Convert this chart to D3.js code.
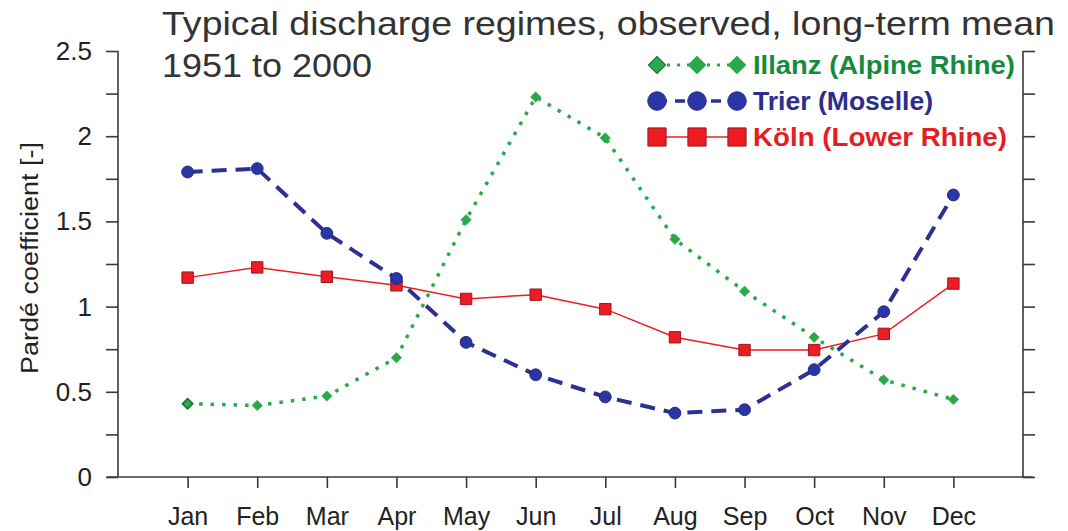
<!DOCTYPE html>
<html>
<head>
<meta charset="utf-8">
<script src="https://cdn.jsdelivr.net/npm/d3@7/dist/d3.min.js"></script>
<style>
  html, body { margin: 0; padding: 0; background: #fff; }
  svg { display: block; font-family: "Liberation Sans", Arial, Helvetica, sans-serif; }
</style>
</head>
<body>
<svg id="chart" width="1068" height="531"></svg>
<script>
// Monthly Pardé coefficients, long-term mean 1951–2000
const months = ["Jan", "Feb", "Mar", "Apr", "May", "Jun", "Jul", "Aug", "Sep", "Oct", "Nov", "Dec"];
const illanz = [0.43, 0.42, 0.475, 0.70, 1.51, 2.23, 1.99, 1.395, 1.09, 0.82, 0.57, 0.455];
const trier  = [1.79, 1.81, 1.43, 1.165, 0.79, 0.60, 0.47, 0.375, 0.395, 0.63, 0.97, 1.655];
const koeln  = [1.17, 1.23, 1.175, 1.125, 1.045, 1.07, 0.985, 0.82, 0.745, 0.745, 0.84, 1.135];
const yTicks = [0, 0.5, 1, 1.5, 2, 2.5];
const yMinorTicks = [0, 0.25, 0.5, 0.75, 1, 1.25, 1.5, 1.75, 2, 2.25, 2.5];
const seriesNames = ["Illanz (Alpine Rhine)", "Trier (Moselle)", "Köln (Lower Rhine)"];

const svg = d3.select("#chart");
const plot = { left: 118, right: 1023, top: 51, bottom: 477 };

const x = d3.scaleLinear().domain([0, months.length + 1]).range([plot.left, plot.right]);
const y = d3.scaleLinear().domain([0, 2.5]).range([plot.bottom, plot.top]);

const axisColor = "#3a3a3a";

// Title
svg.append("text").attr("x", 162).attr("y", 35)
  .attr("font-size", 33).attr("fill", "#333")
  .attr("textLength", 893).attr("lengthAdjust", "spacingAndGlyphs")
  .text("Typical discharge regimes, observed, long-term mean");
svg.append("text").attr("x", 162).attr("y", 77)
  .attr("font-size", 33).attr("fill", "#333")
  .attr("textLength", 210).attr("lengthAdjust", "spacingAndGlyphs")
  .text("1951 to 2000");

// Left axis: quarter ticks, labelled every 0.5
const gLeft = svg.append("g").attr("transform", `translate(${plot.left},0)`)
  .call(d3.axisLeft(y).tickValues(yMinorTicks).tickSize(12).tickFormat(""));
gLeft.selectAll("path, line").attr("stroke", axisColor).attr("stroke-width", 1.6);
gLeft.select(".domain").attr("d", `M0,${plot.top}V${plot.bottom}`);

svg.append("g").selectAll("text").data(yTicks).join("text")
  .attr("x", 92).attr("y", d => y(d) + 9)
  .attr("text-anchor", "end").attr("font-size", 26).attr("fill", "#222")
  .text(d => d3.format("")(d));

// Right axis with outward ticks
const gRight = svg.append("g").attr("transform", `translate(${plot.right},0)`)
  .call(d3.axisRight(y).tickValues(yMinorTicks).tickSize(12).tickFormat(""));
gRight.selectAll("path, line").attr("stroke", axisColor).attr("stroke-width", 1.6);
gRight.select(".domain").attr("d", `M0,${plot.top}V${plot.bottom}`);

// Bottom axis
const gBottom = svg.append("g").attr("transform", `translate(0,${plot.bottom})`)
  .call(d3.axisBottom(x).tickValues(d3.range(1, months.length + 1)).tickSize(11)
    .tickFormat(i => months[i - 1]));
gBottom.selectAll("path, line").attr("stroke", axisColor).attr("stroke-width", 1.6);
gBottom.select(".domain").attr("d", `M${plot.left - 11},0H${plot.right + 10}`);
gBottom.selectAll("text").attr("font-size", 25).attr("fill", "#222")
  .attr("y", 48).attr("dy", 0)
  .attr("font-family", "'Liberation Sans', Arial, sans-serif");

// Y axis title
svg.append("text")
  .attr("transform", `translate(38,258) rotate(-90)`)
  .attr("text-anchor", "middle").attr("font-size", 23).attr("fill", "#222")
  .attr("textLength", 232).attr("lengthAdjust", "spacingAndGlyphs")
  .text("Pardé coefficient [-]");

const line = d3.line().x((d, i) => x(i + 1)).y(d => y(d));

const green = "#2aa948", blue = "#2a3192", red = "#ec1c24";

// Köln (solid red)
svg.append("path").datum(koeln).attr("d", line)
  .attr("fill", "none").attr("stroke", red).attr("stroke-width", 1.5);

// Trier (dashed blue)
svg.append("path").datum(trier).attr("d", line)
  .attr("fill", "none").attr("stroke", blue).attr("stroke-width", 4)
  .attr("stroke-dasharray", "15,9");

// Illanz (dotted green)
svg.append("path").datum(illanz).attr("d", line)
  .attr("fill", "none").attr("stroke", green).attr("stroke-width", 3.5)
  .attr("stroke-dasharray", "3.5,8");

// Markers (diamonds are squares turned by 45 degrees)
const sq = d3.symbol().type(d3.symbolSquare).size(130);
const circ = d3.symbol().type(d3.symbolCircle).size(110);
const diamond = d3.symbol().type(d3.symbolSquare).size(55);

svg.append("g").selectAll("path").data(koeln).join("path")
  .attr("d", sq).attr("transform", (d, i) => `translate(${x(i + 1)},${y(d)})`)
  .attr("fill", red).attr("stroke", "#9b1a1e").attr("stroke-width", 1);

svg.append("g").selectAll("path").data(trier).join("path")
  .attr("d", circ).attr("transform", (d, i) => `translate(${x(i + 1)},${y(d)})`)
  .attr("fill", "#2b36a6").attr("stroke", "#262a80").attr("stroke-width", 1);

svg.append("g").selectAll("path").data(illanz).join("path")
  .attr("d", diamond).attr("transform", (d, i) => `translate(${x(i + 1)},${y(d)}) rotate(45)`)
  .attr("fill", green)
  .attr("stroke", (d, i) => i === 0 ? "#1b6a2f" : green).attr("stroke-width", (d, i) => i === 0 ? 1.5 : 0.5);

// Legend
const legend = svg.append("g");
const legendRows = [
  { name: seriesNames[0], y: 65, color: green, text: "#168a3e", dash: "3,7", width: 3, sym: d3.symbolSquare, size: 150, rot: 45, stroke: "#1b6a2f", len: 262 },
  { name: seriesNames[1], y: 101, color: blue, text: "#2b2e8c", dash: "10,8", width: 3.5, sym: d3.symbolCircle, size: 270, rot: 0, stroke: "#262a80", len: 180 },
  { name: seriesNames[2], y: 137, color: red, text: "#e31e24", dash: null, width: 1.5, sym: d3.symbolSquare, size: 330, rot: 0, stroke: "#8e1a1d", len: 254 }
];
const legendX = [657, 697, 737];
legendRows.forEach((r, k) => {
  const g = legend.append("g");
  g.append("line").attr("x1", legendX[0]).attr("x2", legendX[2]).attr("y1", r.y).attr("y2", r.y)
    .attr("stroke", r.color).attr("stroke-width", r.width)
    .attr("stroke-dasharray", r.dash);
  g.selectAll("path").data(legendX).join("path")
    .attr("d", d3.symbol().type(r.sym).size(r.size))
    .attr("transform", d => `translate(${d},${r.y}) rotate(${r.rot})`)
    .attr("fill", k === 1 ? "#2b36a6" : r.color)
    .attr("stroke", (d, i) => (k === 0 && i > 0) ? r.color : r.stroke).attr("stroke-width", 1);
  g.append("text").attr("x", 753).attr("y", r.y + 9)
    .attr("font-size", 25).attr("font-weight", "bold").attr("fill", r.text)
    .attr("textLength", r.len).attr("lengthAdjust", "spacingAndGlyphs")
    .text(r.name);
});
</script>
</body>
</html>
